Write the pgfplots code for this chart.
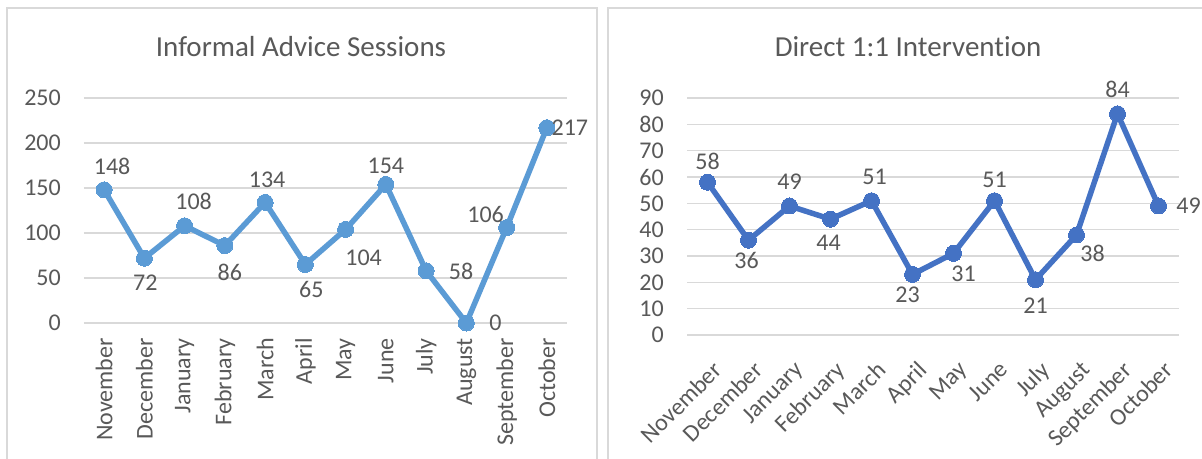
\documentclass[border=0pt]{standalone}
\usepackage{fontspec}
\setmainfont{Carlito}[Ligatures={NoCommon}]
\usepackage{pgfplots}
\pgfplotsset{compat=1.18}
\usepackage{pgfplotstable}
\definecolor{txt}{HTML}{595959}
\definecolor{gridc}{HTML}{D9D9D9}
\definecolor{lineA}{HTML}{5B9BD5}
\definecolor{lineB}{HTML}{4472C4}

\pgfplotstableread{
x y dx dy
0 148 8 23
1 72 1 -25
2 108 9 24
3 86 5 -27
4 134 2 23
5 65 6 -25
6 104 18 -28
7 154 0 19
8 58 35 -1
9 0 29 0
10 106 -21 13
11 217 23 0
}\informal

\pgfplotstableread{
x y dx dy
0 58 0 21
1 36 -2 -20
2 49 0 24
3 44 -2 -24
4 51 3 24
5 23 -5 -20
6 31 10 -20
7 51 0 21
8 21 0 -26
9 38 16 -18
10 84 0 24
11 49 30 0
}\direct

\pgfplotsset{
  mystyle/.style={
    scale only axis,
    xmin=-0.5, xmax=11.5, ymin=0,
    enlargelimits=false,
    xtick={0,...,11},
    xticklabels={November,December,January,February,March,April,May,June,July,August,September,October},
    axis line style={draw=none},
    major tick length=0pt,
    ymajorgrids,
    grid style={gridc, line width=1.5pt},
    tick label style={font=\fontsize{24}{24}\selectfont, text=txt},
    /pgf/number format/assume math mode=true,
    yticklabel style={anchor=east, inner sep=0pt, xshift=-23pt},
    clip=false,
    nodes near coords={\pgfmathprintnumber[assume math mode=true]{\pgfplotspointmeta}},
    visualization depends on={\thisrow{dx}\as\dx},
    visualization depends on={\thisrow{dy}\as\dy},
    every node near coord/.append style={anchor=center, xshift=\dx pt, yshift=\dy pt, font=\fontsize{24}{24}\selectfont, text=txt, inner sep=0pt},
  }
}

\begin{document}
\begin{tikzpicture}[x=1pt,y=1pt]
\clip (0,0) rectangle (1202,458);
\fill[white] (0,0) rectangle (1202,458);
\draw[gridc, line width=1.2pt] (7,-5) rectangle (597,450);
\draw[gridc, line width=1.2pt] (608,-5) rectangle (1215,450);

\node[font=\fontsize{29}{29}\selectfont, text=txt] at (301,411) {Informal Advice Sessions};
\node[font=\fontsize{29}{29}\selectfont, text=txt] at (908,411) {Direct 1:1 Intervention};

\begin{axis}[mystyle,
  at={(84pt,135pt)}, anchor=south west,
  width=483pt, height=225pt,
  ymax=250, ytick={0,50,...,250},
  xticklabel style={inner sep=0pt, yshift=-15pt, rotate=90, anchor=east},
]
\addplot[lineA, line width=5.5pt, mark=*, mark size=8pt, mark options={fill=lineA, draw=lineA, line width=0pt}]
  table[x=x, y=y] {\informal};
\end{axis}

\begin{axis}[mystyle,
  at={(687pt,123pt)}, anchor=south west,
  width=492pt, height=237pt,
  ymax=90, ytick={0,10,...,90},
  xticklabel style={inner sep=0pt, xshift=4pt, yshift=-25pt, rotate=45, anchor=north east},
]
\addplot[lineB, line width=5.5pt, mark=*, mark size=8pt, mark options={fill=lineB, draw=lineB, line width=0pt}]
  table[x=x, y=y] {\direct};
\end{axis}
\end{tikzpicture}
\end{document}
